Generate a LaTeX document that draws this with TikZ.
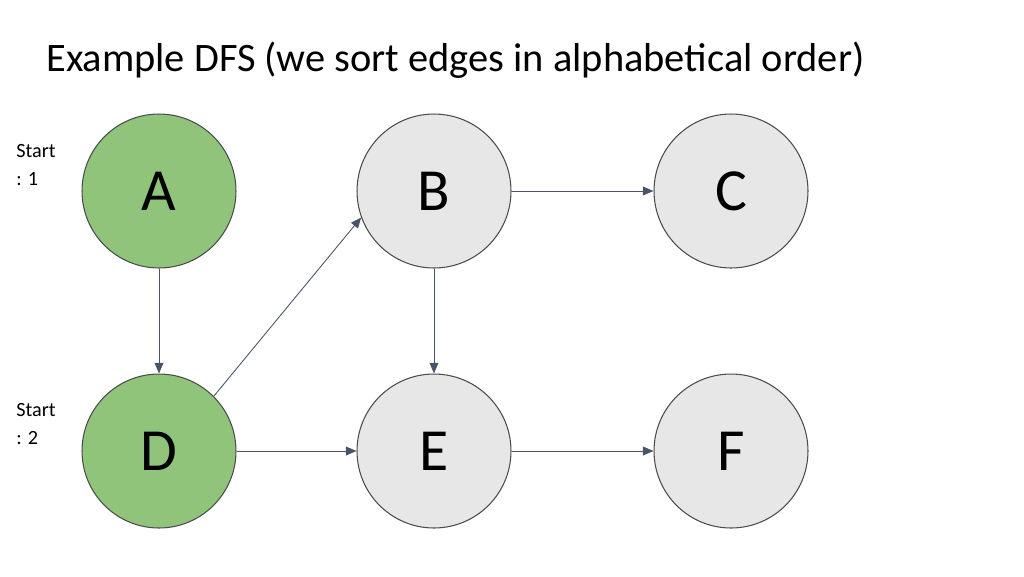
\documentclass[tikz,border=0pt]{standalone}
\usepackage{fontspec}
\setmainfont{Carlito}
\usetikzlibrary{arrows.meta}
\definecolor{grn}{HTML}{8FC47A}
\definecolor{gry}{HTML}{E7E7E7}
\definecolor{edg}{HTML}{4A5468}
\begin{document}
\begin{tikzpicture}[x=0.02cm,y=-0.02cm,
  vtx/.style={circle,draw=black!70,line width=0.6pt,minimum size=3.08cm,inner sep=0pt,font=\fontsize{34}{40}\selectfont},
  vis/.style={vtx,fill=grn},
  unv/.style={vtx,fill=gry},
  arr/.style={-{Triangle[length=6pt,width=5pt]},draw=edg,line width=0.5pt},
  lbl/.style={align=left,font=\fontsize{11.5}{16}\selectfont,anchor=north west,inner sep=0pt}]
\useasboundingbox (0,0) rectangle (1024,576);
\node[anchor=west,inner sep=0pt,font=\fontsize{23}{28}\selectfont] (t) at (46,60) {Example DFS (we sort edges in alphabetical order)};
\node[vis] (A) at (159,191) {A};
\node[unv] (B) at (434,191) {B};
\node[unv] (C) at (731,191) {C};
\node[vis] (D) at (159,451) {D};
\node[unv] (E) at (434,451) {E};
\node[unv] (F) at (731,451) {F};
\node[lbl] (s1) at (16,144) {Start\\: 1};
\node[lbl] (s2) at (16,403) {Start\\: 2};
\draw[arr] (A) -- (D);
\draw[arr] (D.45) -- (B.200);
\draw[arr] (B) -- (C);
\draw[arr] (B) -- (E);
\draw[arr] (D) -- (E);
\draw[arr] (E) -- (F);
\end{tikzpicture}
\end{document}
